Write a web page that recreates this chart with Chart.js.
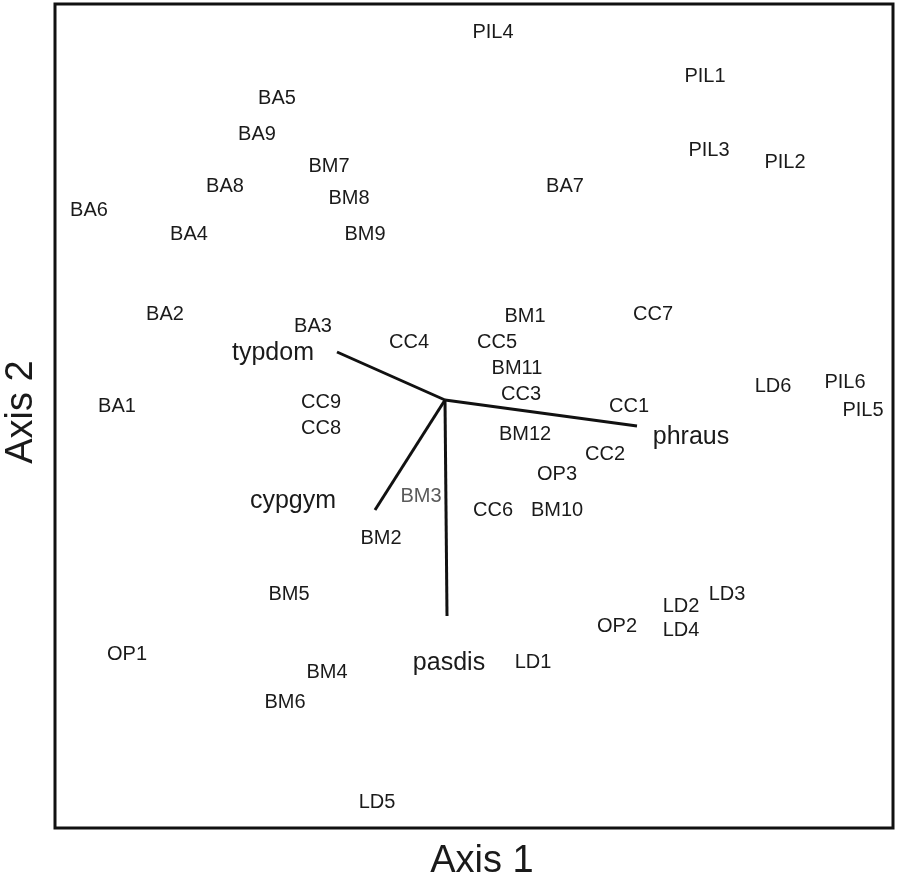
<!DOCTYPE html>
<html>
<head>
<meta charset="utf-8">
<script src="https://cdn.jsdelivr.net/npm/chart.js@4.4.1/dist/chart.umd.min.js"></script>
<style>
    html, body { margin: 0; padding: 0; background: #fff; }
    #wrap { width: 899px; height: 885px; }
</style>
</head>
<body>
<div id="wrap"><canvas id="ordChart"></canvas></div>
<script>
// site scores (Axis 1, Axis 2)
const siteNames = ['PIL4', 'PIL1', 'BA5', 'BA9', 'PIL3', 'PIL2', 'BM7', 'BA8', 'BA7', 'BM8',
    'BA6', 'BA4', 'BM9', 'BA2', 'BM1', 'CC7', 'BA3', 'CC4', 'CC5', 'BM11',
    'CC3', 'LD6', 'PIL6', 'PIL5', 'BA1', 'CC9', 'CC1', 'CC8', 'BM12', 'CC2',
    'OP3', 'BM3', 'CC6', 'BM10', 'BM2', 'BM5', 'LD3', 'LD2', 'OP2', 'LD4',
    'OP1', 'LD1', 'BM4', 'BM6', 'LD5'];
const siteAxis1 = [0.12, 0.65, -0.42, -0.47, 0.66, 0.85, -0.29, -0.55, 0.30, -0.24,
    -0.89, -0.64, -0.20, -0.70, 0.20, 0.52, -0.33, -0.09, 0.13, 0.18,
    0.19, 0.82, 1.00, 1.045, -0.82, -0.31, 0.46, -0.31, 0.20, 0.40,
    0.28, -0.06, 0.12, 0.28, -0.16, -0.39, 0.705, 0.59, 0.43, 0.59,
    -0.795, 0.22, -0.295, -0.40, -0.17];
const siteAxis2 = [0.925, 0.815, 0.76, 0.67, 0.63, 0.60, 0.59, 0.54, 0.54, 0.51,
    0.48, 0.42, 0.42, 0.22, 0.215, 0.22, 0.19, 0.15, 0.15, 0.085,
    0.02, 0.04, 0.05, -0.02, -0.01, 0.0, -0.01, -0.065, -0.08, -0.13,
    -0.18, -0.235, -0.27, -0.27, -0.34, -0.48, -0.48, -0.51, -0.56, -0.57,
    -0.63, -0.65, -0.675, -0.75, -1.0];

// biplot vectors: tip and label anchor
const vectorNames = ['typdom', 'phraus', 'cypgym', 'pasdis'];
const vectorAxis1 = [-0.27, 0.48, -0.175, 0.005];
const vectorAxis2 = [0.12, -0.065, -0.275, -0.54];
const vectorLabelAxis1 = [-0.43, 0.615, -0.38, 0.01];
const vectorLabelAxis2 = [0.12, -0.09, -0.25, -0.655];

const axisTitles = ['Axis 1', 'Axis 2'];
const fadedSites = ['BM3'];

const sitePoints = siteNames.map((n, i) => ({ x: siteAxis1[i], y: siteAxis2[i] }));

const vectorDatasets = vectorNames.map((n, i) => ({
    type: 'line',
    label: n,
    data: [{ x: 0, y: 0 }, { x: vectorAxis1[i], y: vectorAxis2[i] }],
    showLine: true,
    borderColor: '#111',
    borderWidth: 3,
    pointRadius: 0,
    fill: false
}));

const FONT = '"Liberation Sans", Arial, sans-serif';

const labelPlugin = {
    id: 'ordLabels',
    afterDatasetsDraw(chart) {
        const ctx = chart.ctx;
        const xs = chart.scales.x;
        const ys = chart.scales.y;
        const meta = chart.getDatasetMeta(0);
        ctx.save();
        ctx.textAlign = 'center';
        ctx.textBaseline = 'middle';
        ctx.font = '20px ' + FONT;
        meta.data.forEach((pt, i) => {
            ctx.fillStyle = fadedSites.includes(siteNames[i]) ? '#5a5a5a' : '#1a1a1a';
            ctx.fillText(siteNames[i], pt.x, pt.y + 2);
        });
        ctx.font = '25px ' + FONT;
        ctx.fillStyle = '#1a1a1a';
        vectorNames.forEach((n, i) => {
            ctx.fillText(n, xs.getPixelForValue(vectorLabelAxis1[i]), ys.getPixelForValue(vectorLabelAxis2[i]) + 1);
        });
        ctx.restore();
    },
    afterDraw(chart) {
        const a = chart.chartArea;
        const ctx = chart.ctx;
        ctx.save();
        ctx.strokeStyle = '#111';
        ctx.lineWidth = 3;
        ctx.strokeRect(a.left, a.top, a.right - a.left, a.bottom - a.top);

        // axis titles
        ctx.fillStyle = '#1a1a1a';
        ctx.font = '38px ' + FONT;
        ctx.textAlign = 'center';
        ctx.textBaseline = 'middle';
        ctx.fillText(axisTitles[0], (a.left + a.right) / 2 + 8, a.bottom + 34);
        ctx.translate(a.left - 33, (a.top + a.bottom) / 2 - 4);
        ctx.rotate(-Math.PI / 2);
        ctx.fillText(axisTitles[1], 0, 0);
        ctx.restore();
    }
};

new Chart(document.getElementById('ordChart'), {
    type: 'scatter',
    data: {
        datasets: [
            { label: 'sites', data: sitePoints, pointRadius: 0, pointHoverRadius: 0 },
            ...vectorDatasets
        ]
    },
    options: {
        responsive: true,
        maintainAspectRatio: false,
        animation: false,
        layout: { padding: { top: 4, right: 6, bottom: 57, left: 55 } },
        plugins: {
            legend: { display: false },
            tooltip: { enabled: false }
        },
        scales: {
            x: {
                min: -0.975,
                max: 1.12,
                grid: { display: false, drawTicks: false },
                border: { display: false },
                ticks: { display: false }
            },
            y: {
                min: -1.07,
                max: 0.99,
                grid: { display: false, drawTicks: false },
                border: { display: false },
                ticks: { display: false }
            }
        }
    },
    plugins: [labelPlugin]
});
</script>
</body>
</html>
